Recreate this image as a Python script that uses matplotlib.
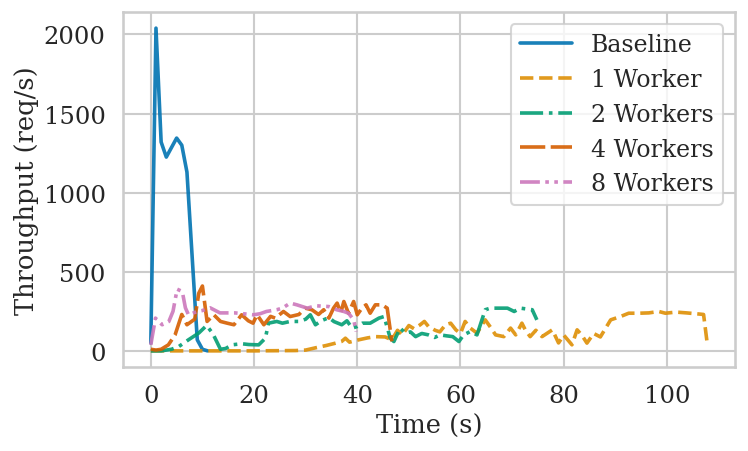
import numpy as np
import matplotlib
matplotlib.use("Agg")
import matplotlib.pyplot as plt
import seaborn as sns

# time (s) and throughput (req/s) for each run
t_base = [0, 1, 2, 3, 4, 5, 6, 7, 8, 9, 10, 11]
v_base = [50, 2040, 1320, 1225, 1285, 1345, 1300, 1130, 600, 70, 10, 0]

t_w1 = [0, 10, 20, 28, 30, 32, 34, 35.7, 37, 37.7, 38.5, 40.3, 42, 43.5, 45.4,
        46.7, 47.8, 48.7, 50, 51, 52.2, 53, 53.8, 55.1, 56, 57.1, 58.1, 59.1,
        60, 60.9, 61.9, 63.2, 64.8, 65.8, 66.8, 68.4, 69.7, 70.7, 71.9, 72.6,
        73.5, 74.6, 75.8, 77.8, 79, 80, 81.6, 82.6, 83.5, 84.5, 85.8, 87.1,
        89.1, 91, 92.6, 94.6, 96.5, 98.4, 99.7, 101.8, 103.8, 106.5, 107.1, 107.8]
v_w1 = [0, 0, 0, 2, 5, 20, 34, 48, 60, 80, 55, 70, 82, 90, 88,
        70, 130, 100, 160, 140, 165, 186, 154, 130, 120, 165, 175, 133,
        110, 186, 144, 112, 196, 150, 101, 90, 144, 101, 175, 130,
        90, 130, 90, 133, 50, 100, 38, 133, 100, 49, 110, 88,
        196, 217, 238, 238, 240, 249, 238, 245, 240, 232, 230, 49]

t_w2 = [0, 2, 4, 5.4, 7.3, 9.3, 10.8, 12, 13.5, 14.5, 15.7, 17.6, 19, 20.9,
        22.2, 22.8, 24.4, 25.5, 27, 28.7, 30, 30.9, 31.9, 33, 34.5, 35.5, 37,
        38, 39, 40, 41, 42.5, 43.3, 44.2, 45.2, 46.4, 47.1, 48.3, 49.3, 50.3,
        51.3, 52.5, 53.8, 55, 56.1, 57.3, 58.5, 59.7, 60.6, 61.9, 63.2, 64.8,
        65.8, 67.4, 69.1, 70.4, 71.6, 73.9, 74.8]
v_w2 = [0, 0, 10, 27, 70, 113, 160, 110, 10, 15, 38, 45, 40, 38,
        80, 175, 186, 175, 186, 186, 200, 228, 165, 190, 210, 185, 165,
        190, 144, 154, 175, 175, 190, 207, 217, 80, 59, 144, 112, 120,
        90, 110, 101, 85, 101, 95, 90, 59, 101, 122, 101, 260,
        270, 270, 270, 249, 270, 260, 196]

t_w4 = [0, 1, 2, 3.4, 4.7, 6, 7, 7.9, 8.5, 9.3, 10, 10.9, 12.2, 13.5, 14.8,
        16.1, 17.6, 18.9, 19.8, 20.6, 21.9, 23.2, 24.1, 25.7, 27, 28.7, 29.9,
        31.2, 32.5, 33.5, 34.5, 35.4, 36.1, 36.8, 37.4, 38.3, 39.3, 40, 40.9,
        41.7, 42.5, 43.5, 44.8, 45.8, 46.7]
v_w4 = [10, 5, 10, 38, 101, 230, 165, 186, 200, 365, 410, 186, 228, 186, 175,
        165, 228, 190, 175, 228, 165, 218, 207, 249, 217, 230, 270,
        260, 230, 260, 207, 270, 302, 240, 312, 238, 312, 228, 270,
        291, 238, 291, 291, 270, 60]

t_w8 = [0, 0.9, 2.2, 3.5, 4.3, 5.1, 6.1, 6.7, 7.3, 9, 10, 11.5, 13.4, 16.3,
        19.9, 21.2, 22.4, 24.4, 25.5, 27, 28.3, 30.3, 32, 34.5, 36, 37.4, 38.3,
        39.3, 39.8]
v_w8 = [38, 207, 165, 186, 250, 390, 375, 272, 228, 249, 255, 272, 240, 240,
        228, 235, 249, 260, 270, 302, 291, 270, 285, 280, 260, 249, 238,
        196, 122]

labels = ["Baseline", "1 Worker", "2 Workers", "4 Workers", "8 Workers"]
series = [(t_base, v_base), (t_w1, v_w1), (t_w2, v_w2), (t_w4, v_w4), (t_w8, v_w8)]
styles = ["-", "--", "-.", (0, (7, 1.5)), (0, (5.5, 1.5, 1, 1.5, 1, 1.5))]

sns.set_theme(context="talk", style="whitegrid", palette="colorblind")
plt.rcParams["font.family"] = ["DejaVu Serif"]
colors = sns.color_palette("colorblind")

fig, ax = plt.subplots(figsize=(7.48, 4.52), dpi=100)
fig.subplots_adjust(left=123/748, right=735/748, top=1-13/452, bottom=1-368/452)

for (t, v), lab, ls, c in zip(series, labels, styles, colors):
    ax.plot(t, v, linestyle=ls, color=c, linewidth=2.6, alpha=0.9, label=lab)

ax.set_xticks([0, 20, 40, 60, 80, 100])
ax.set_yticks([0, 500, 1000, 1500, 2000])
ax.tick_params(labelsize=17.5)
ax.set_xlabel("Time (s)", fontsize=18.5, labelpad=4)
ax.set_ylabel("Throughput (req/s)", fontsize=18.5, labelpad=3)
ax.legend(loc="upper right", handlelength=2.2, fontsize=17, labelspacing=0.5)

fig.savefig("out.png", dpi=100)
